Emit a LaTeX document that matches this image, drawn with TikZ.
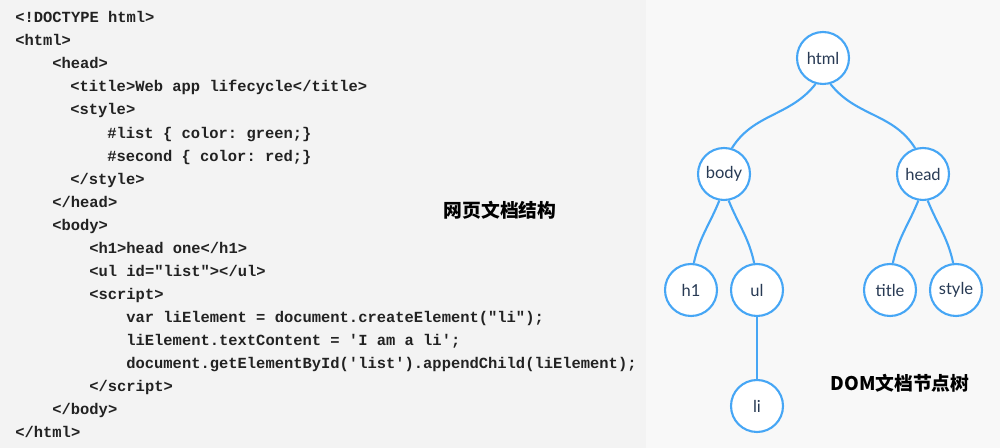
\documentclass[tikz,border=0pt]{standalone}
\usepackage{fontspec}
\setmainfont{Lato}
\setmonofont{Liberation Mono}
\newfontfamily\cjk{Noto Sans CJK SC}
\usepackage{xcolor}
\usepackage{tikz}
\usetikzlibrary{positioning}
\definecolor{codebg}{RGB}{243,243,243}
\definecolor{treebg}{RGB}{248,248,248}
\definecolor{codeink}{RGB}{34,34,34}
\definecolor{domblue}{RGB}{70,166,245}
\definecolor{domink}{RGB}{40,58,84}

\begin{document}
\begin{tikzpicture}[x=0.02cm, y=-0.02cm,
  code/.style={anchor=west, inner sep=0pt, text height=0.7em, text depth=0.2em, yshift=-1.1pt,
    font=\ttfamily\bfseries\fontsize{8.8pt}{10pt}\selectfont, text=codeink},
  dom/.style={draw=domblue, line width=1.2pt, fill=white, circle, minimum size=1.04cm,
    inner sep=0pt, font=\fontsize{9.4pt}{11pt}\selectfont, text=domink},
  link/.style={draw=domblue, line width=1.2pt},
  caption/.style={font=\cjk\bfseries\fontsize{10.7pt}{12pt}\selectfont, text=black}]
  \useasboundingbox (0,0) rectangle (1000,448);
  \fill[codebg] (0,0) rectangle (646,448);
  \fill[treebg] (646,0) rectangle (1000,448);

  % page source
  \node[code] (l1) at (15,16) {<!DOCTYPE html>};
  \node[code] (l2) at (15,39.5) {<html>};
  \node[code] (l3) at (52,62.5) {<head>};
  \node[code] (l4) at (70,85.5) {<title>Web app lifecycle</title>};
  \node[code] (l5) at (70,108.5) {<style>};
  \node[code] (l6) at (107,132) {\#list \{ color: green;\}};
  \node[code] (l7) at (107,155) {\#second \{ color: red;\}};
  \node[code] (l8) at (70,178) {</style>};
  \node[code] (l9) at (52,201) {</head>};
  \node[code] (l10) at (52,224) {<body>};
  \node[code] (l11) at (89,247) {<h1>head one</h1>};
  \node[code] (l12) at (89,270) {<ul id="list"></ul>};
  \node[code] (l13) at (89,293) {<script>};
  \node[code] (l14) at (126,316) {var liElement = document.createElement("li");};
  \node[code] (l15) at (126,339) {liElement.textContent = 'I am a li';};
  \node[code] (l16) at (126,362) {document.getElementById('list').appendChild(liElement);};
  \node[code] (l17) at (89,385) {</script>};
  \node[code] (l18) at (52,408.5) {</body>};
  \node[code] (l19) at (15,431.5) {</html>};
  \node[caption] (pagecap) at (500,210) {网页文档结构};

  % DOM tree
  \node[dom] (html) at (823,58) {html};
  \node[dom] (body) at (724,174) {body};
  \node[dom] (head) at (923,174) {head};
  \node[dom] (h1) at (691,290) {h1};
  \node[dom] (ul) at (757,290) {ul};
  \node[dom] (title) at (890,290) {title};
  \node[dom] (style) at (956,290) {style};
  \node[dom] (li) at (757,406) {li};
  \draw[link] (html.-106) to[out=-128, in=58] (body.73);
  \draw[link] (html.-74) to[out=-52, in=122] (head.107);
  \draw[link] (body.-100) to[out=-112, in=78] (h1.84);
  \draw[link] (body.-80) to[out=-68, in=102] (ul.96);
  \draw[link] (head.-100) to[out=-112, in=78] (title.84);
  \draw[link] (head.-80) to[out=-68, in=102] (style.96);
  \draw[link] (ul) -- (li);
  \node[caption] (domcap) at (900,383) {DOM文档节点树};
\end{tikzpicture}
\end{document}
